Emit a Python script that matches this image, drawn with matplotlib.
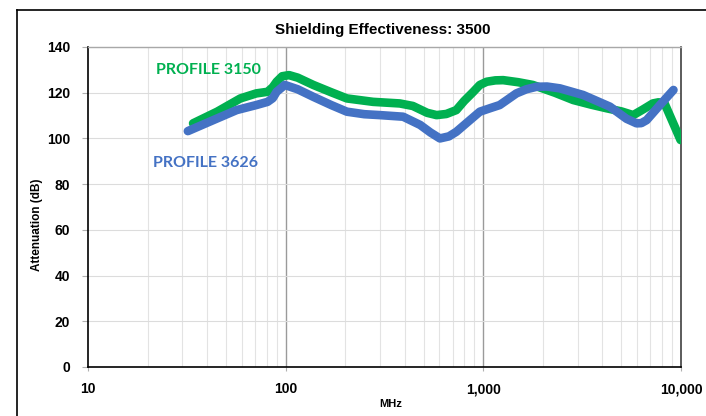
import matplotlib
matplotlib.use("Agg")
import matplotlib.pyplot as plt
from matplotlib.lines import Line2D
from matplotlib.ticker import FixedLocator, FuncFormatter, NullFormatter

plt.rcParams['font.family'] = ['Liberation Sans', 'DejaVu Sans']

title = "Shielding Effectiveness: 3500"
y_label = "Attenuation (dB)"
x_label = "MHz"

green_name = "PROFILE 3150"
green_f = [34, 45, 59, 71, 81, 86, 90, 96, 104, 115, 138, 170, 204, 277, 378,
           440, 520, 580, 650, 730, 800, 890, 960, 1040, 1150, 1260, 1500, 1780,
           2300, 2850, 3500, 4200, 5000, 5730, 6400, 7200, 7700, 8260, 9950]
green_v = [106.6, 111.7, 117.5, 119.7, 120.4, 122.4, 124.8, 127.2, 127.7, 126.6,
           123.4, 120.2, 117.5, 116.0, 115.3, 114.2, 111.2, 110.2, 110.7, 112.4,
           116.4, 120.4, 123.4, 124.8, 125.4, 125.5, 124.6, 123.4, 120.0, 116.8,
           114.8, 113.2, 111.8, 110.2, 112.6, 115.3, 115.8, 115.3, 99.3]

blue_name = "PROFILE 3626"
blue_f = [32, 43, 56.5, 71, 81, 86, 90, 99, 115, 138, 170, 204, 250, 300, 393,
          479, 540, 603, 670, 730, 850, 960, 1080, 1210, 1470, 1650, 1860, 2100,
          2440, 3200, 4370, 5300, 5960, 6300, 6700, 7800, 9160]
blue_v = [103.2, 108.0, 112.4, 114.6, 116.0, 117.6, 120.4, 123.4, 121.5, 118.2,
          114.6, 111.7, 110.6, 110.2, 109.5, 105.9, 102.6, 100.0, 100.9, 102.9,
          107.8, 111.7, 113.2, 114.6, 119.7, 121.5, 122.6, 122.7, 121.9, 119.0,
          113.9, 108.6, 106.6, 106.7, 108.0, 114.5, 121.2]

x_ticks = [10, 100, 1000, 10000]
x_tick_labels = ["10", "100", "1,000", "10,000"]
y_ticks = [0, 20, 40, 60, 80, 100, 120, 140]

GREEN = "#00B050"
BLUE = "#4472C4"

W, H = 706, 416
fig = plt.figure(figsize=(W / 100, H / 100), dpi=100)
ax = fig.add_axes([88 / W, 1 - 367 / H, (681 - 88) / W, (367 - 47) / H])

ax.set_xscale('log')
ax.set_xlim(10, 10000)
ax.set_ylim(0, 140)

minor = [m * d for d in (10, 100, 1000) for m in range(2, 10)]
for xm in minor:
    ax.axvline(xm, color='#e3e3e3', lw=0.8, zorder=0)
for xm in (100, 1000):
    ax.axvline(xm, color='#9a9a9a', lw=1.0, zorder=0)
for yv in y_ticks[1:]:
    ax.axhline(yv, color='#dcdcdc', lw=0.8, zorder=0)

ax.plot(green_f, green_v, color=GREEN, lw=6.2, solid_joinstyle='round',
        solid_capstyle='round', zorder=3)
ax.plot(blue_f, blue_v, color=BLUE, lw=6.2, solid_joinstyle='round',
        solid_capstyle='round', zorder=4)

ax.xaxis.set_major_locator(FixedLocator(x_ticks))
ax.xaxis.set_minor_locator(FixedLocator([]))
ax.xaxis.set_major_formatter(FuncFormatter(
    lambda v, p: x_tick_labels[x_ticks.index(int(round(v)))] if int(round(v)) in x_ticks else ""))
ax.xaxis.set_minor_formatter(NullFormatter())
ax.set_yticks(y_ticks)

ax.tick_params(axis='x', length=3, width=0.8, color='#b0b0b0', pad=8,
               labelsize=10)
ax.tick_params(axis='y', length=4, width=0.8, color='#b0b0b0', pad=9,
               labelsize=10)
for lab in ax.get_xticklabels() + ax.get_yticklabels():
    lab.set_fontweight('bold')

ax.spines['left'].set_color('black')
ax.spines['left'].set_linewidth(1.2)
ax.spines['bottom'].set_color('black')
ax.spines['bottom'].set_linewidth(1.2)
ax.spines['top'].set_color('#a8a8a8')
ax.spines['top'].set_linewidth(1.0)
ax.spines['right'].set_color('#404040')
ax.spines['right'].set_linewidth(1.2)

fig.text(383 / W, 1 - 30 / H, title, ha='center', va='center',
         fontsize=11, fontweight='bold')
fig.text(37 / W, 1 - 225 / H, y_label, ha='center', va='center',
         rotation=90, fontsize=8.5, fontweight='bold')
fig.text(391 / W, 1 - 399 / H, x_label, ha='center', va='top',
         fontsize=8, fontweight='bold')

fig.text(156 / W, 1 - 70 / H, green_name, ha='left', va='center',
         fontsize=11.5, fontweight='bold', color=GREEN,
         family=['Lato', 'DejaVu Sans'])
fig.text(153 / W, 1 - 163 / H, blue_name, ha='left', va='center',
         fontsize=11.5, fontweight='bold', color=BLUE,
         family=['Lato', 'DejaVu Sans'])

# outer frame (partially cropped in the reference)
fig.add_artist(Line2D([17 / W, 17 / W], [0, 1 - 10 / H], color='black', lw=1.2,
                      transform=fig.transFigure))
fig.add_artist(Line2D([17 / W, 1], [1 - 10 / H, 1 - 10 / H], color='black', lw=1.2,
                      transform=fig.transFigure))

fig.savefig("out.png", dpi=100)
